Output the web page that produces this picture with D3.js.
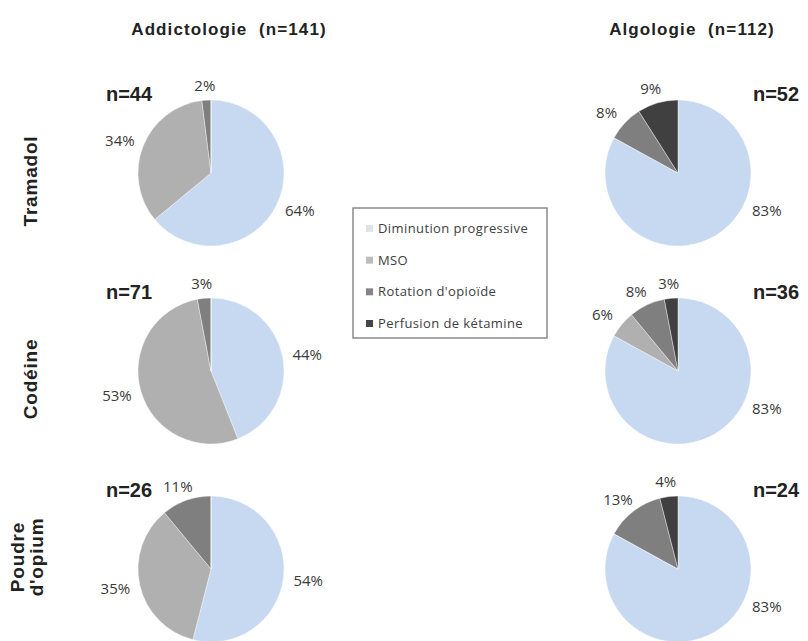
<!DOCTYPE html>
<html><head><meta charset="utf-8">
<script src="https://cdn.jsdelivr.net/npm/d3@7"></script>
<style>html,body{margin:0;padding:0;background:#fff;}svg{display:block;}</style>
</head><body>
<svg id="chart" width="808" height="641"></svg>
<script>
// ---- data ----
const categories = ["Diminution progressive", "MSO", "Rotation d'opioïde", "Perfusion de kétamine"];
const services = ["Addictologie (n=141)", "Algologie (n=112)"];
const drugs = ["Tramadol", "Codéine", "Poudre d'opium"];
const nAddictologie = [44, 71, 26];
const nAlgologie = [52, 36, 24];
// percentages per drug, in category order
const addictologieValues = [
  [64, 34, 2, 0],
  [44, 53, 3, 0],
  [54, 35, 11, 0]
];
const algologieValues = [
  [83, 0, 8, 9],
  [83, 6, 8, 3],
  [83, 0, 13, 4]
];

// ---- drawing ----
const svg = d3.select("#chart");
const colors = d3.scaleOrdinal().domain(categories).range(["#c6d9f0", "#b0b0b0", "#7f7f7f", "#404040"]);
const legendColors = d3.scaleOrdinal().domain(categories).range(["#dde3ea", "#bdbdbd", "#858585", "#454545"]);
const x = d3.scalePoint().domain(services).range([211, 678]);
const y = d3.scalePoint().domain(drugs).range([173, 569]);
const r = 73;

const pie = d3.pie().sort(null).value(d => d.v);
const arc = d3.arc().innerRadius(0).outerRadius(r);

const panels = [];
services.forEach((s, si) => {
  const vals = si === 0 ? addictologieValues : algologieValues;
  const ns = si === 0 ? nAddictologie : nAlgologie;
  drugs.forEach((dname, di) => {
    panels.push({ service: s, si, drug: dname, n: ns[di],
      data: vals[di].map((v, k) => ({ v, cat: categories[k], k })) });
  });
});

// titles
svg.selectAll("text.title").data(services).join("text")
  .attr("class", "title")
  .attr("x", (d, i) => x(d) + (i === 0 ? 18 : 14))
  .attr("y", 35)
  .attr("text-anchor", "middle")
  .attr("font-family", "Liberation Sans, Arial, sans-serif")
  .attr("font-weight", "bold")
  .attr("font-size", 17)
  .attr("letter-spacing", 1.1)
  .attr("fill", "#222")
  .text(d => d.replace(" (", "  ("))
  .attr("xml:space", "preserve")
  .style("white-space", "pre");

// row labels
const rowLab = svg.selectAll("g.rowlab").data(drugs).join("g")
  .attr("class", "rowlab")
  .attr("transform", (d, i) => `translate(${i === 2 ? 26 : 30},${y(d) + (i === 2 ? -12 : 8)}) rotate(-90)`);
rowLab.each(function (d) {
  const g = d3.select(this);
  const words = d === "Poudre d'opium" ? ["Poudre", "d'opium"] : [d];
  words.forEach((w, wi) => {
    g.append("text")
      .attr("x", 0)
      .attr("y", (wi - (words.length - 1) / 2) * 19 + 7)
      .attr("text-anchor", "middle")
      .attr("font-family", "Liberation Sans, Arial, sans-serif")
      .attr("font-weight", "bold")
      .attr("font-size", 19)
      .attr("letter-spacing", 0.8)
      .attr("fill", "#222")
      .text(w);
  });
});

// pies
const g = svg.selectAll("g.pie").data(panels).join("g")
  .attr("class", "pie")
  .attr("transform", d => `translate(${x(d.service)},${y(d.drug)})`);

g.selectAll("path").data(d => pie(d.data)).join("path")
  .attr("d", arc)
  .attr("fill", d => colors(d.data.cat))
  .attr("stroke", "#ffffff")
  .attr("stroke-width", 0.4);

// percentage labels
const maxFirst = 115 * Math.PI / 180;
g.selectAll("text.pct").data(d => pie(d.data).filter(a => a.data.v > 0)).join("text")
  .attr("class", "pct")
  .each(function (a) {
    let ang = (a.startAngle + a.endAngle) / 2;
    if (a.data.k === 0) ang = Math.min(ang, maxFirst);
    const lx = Math.sin(ang) * (r + 25);
    const ly = -Math.cos(ang) * (r + 15);
    d3.select(this).attr("x", lx).attr("y", ly + 5.5);
  })
  .attr("text-anchor", "middle")
  .attr("font-family", "Open Sans, sans-serif")
  .attr("font-size", 15)
  .attr("fill", "#3a3a3a")
  .text(a => a.data.v + "%");

// n labels
g.append("text")
  .attr("x", d => d.si === 0 ? -82 : 98)
  .attr("y", -72)
  .attr("text-anchor", "middle")
  .attr("font-family", "Liberation Sans, Arial, sans-serif")
  .attr("font-weight", "bold")
  .attr("font-size", 20)
  .attr("fill", "#222")
  .text(d => "n=" + d.n);

// legend
const lg = svg.append("g").attr("transform", "translate(353,208)");
lg.append("rect").attr("x", 0).attr("y", 0).attr("width", 194).attr("height", 130)
  .attr("fill", "#fff").attr("stroke", "#8a8a8a").attr("stroke-width", 1.5);
const ly = d3.scalePoint().domain(categories).range([20, 115]);
const li = lg.selectAll("g.li").data(categories).join("g")
  .attr("class", "li").attr("transform", d => `translate(13,${ly(d)})`);
li.append("rect").attr("x", 0).attr("y", -3).attr("width", 7).attr("height", 7)
  .attr("fill", d => legendColors(d));
li.append("text").attr("x", 12).attr("y", 5)
  .attr("font-family", "Open Sans, sans-serif")
  .attr("font-size", 13)
  .attr("letter-spacing", 0.4)
  .attr("fill", "#404040")
  .text(d => d);
</script>
</body></html>
